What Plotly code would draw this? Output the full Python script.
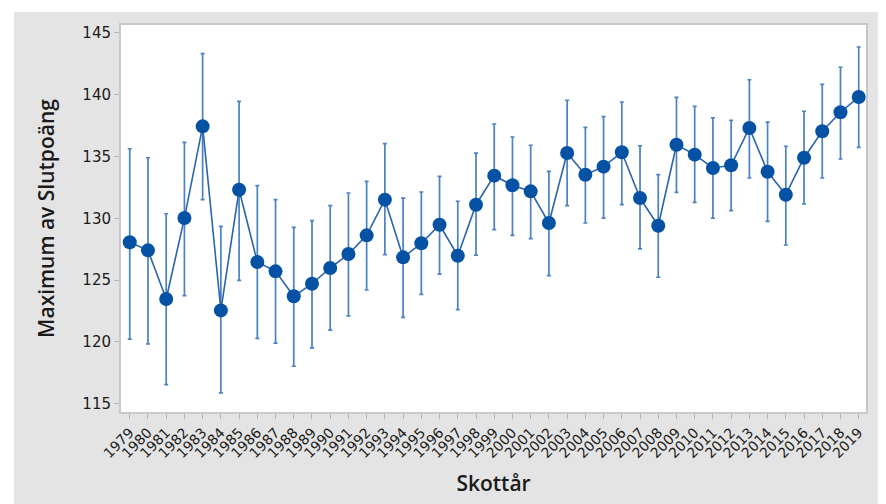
import plotly.graph_objects as go

years = list(range(1979, 2020))
year_labels = [str(y) for y in years]

max_score = [128.06, 127.41, 123.47, 130.02, 137.44, 122.55, 132.31, 126.46, 125.71, 123.69,
             124.71, 125.98, 127.11, 128.62, 131.51, 126.84, 127.98, 129.48, 126.97, 131.10,
             133.45, 132.67, 132.18, 129.62, 135.28, 133.53, 134.18, 135.34, 131.64, 129.40,
             135.95, 135.15, 134.07, 134.29, 137.31, 133.77, 131.91, 134.90, 137.04, 138.58,
             139.81]
upper = [135.63, 134.90, 130.37, 136.15, 143.32, 129.35, 139.46, 132.64, 131.51, 129.27,
         129.81, 131.02, 132.05, 132.99, 136.04, 131.64, 132.13, 133.40, 131.38, 135.28,
         137.63, 136.58, 135.91, 133.80, 139.55, 137.36, 138.22, 139.41, 135.87, 133.53,
         139.79, 139.06, 138.12, 137.93, 141.21, 137.79, 135.83, 138.66, 140.84, 142.22,
         143.86]
lower = [120.23, 119.83, 116.54, 123.74, 131.51, 115.87, 124.98, 120.29, 119.91, 118.03,
         119.51, 120.96, 122.10, 124.20, 127.06, 121.99, 123.85, 125.49, 122.61, 127.01,
         129.08, 128.62, 128.35, 125.36, 131.02, 129.62, 130.02, 131.10, 127.52, 125.23,
         132.10, 131.29, 130.02, 130.62, 133.26, 129.76, 127.84, 131.16, 133.26, 134.80,
         135.74]

y_ticks = [115, 120, 125, 130, 135, 140, 145]

err_plus = [u - m for u, m in zip(upper, max_score)]
err_minus = [m - l for m, l in zip(max_score, lower)]

fig = go.Figure()
fig.add_trace(go.Scatter(
    x=years, y=max_score, mode="markers",
    marker=dict(size=0.1, color="rgba(0,0,0,0)"),
    error_y=dict(type="data", symmetric=False, array=err_plus, arrayminus=err_minus,
                 color="#4a82c4", thickness=1.7, width=2),
    hoverinfo="skip", showlegend=False,
))
fig.add_trace(go.Scatter(
    x=years, y=max_score, mode="lines+markers",
    line=dict(color="#2b65ad", width=1.6),
    marker=dict(size=14, color="#0552a5"),
    showlegend=False,
))

W, H = 886, 504
ml, mr, mt, mb = 113, 28, 17, 100
pw, ph = W - ml - mr, H - mt - mb

fig.update_layout(
    width=W, height=H,
    margin=dict(l=ml, r=mr, t=mt, b=mb, pad=0),
    paper_bgcolor="#e4e4e4", plot_bgcolor="white",
    font=dict(family="Open Sans", color="#1a1a1a"),
    shapes=[
        dict(type="rect", xref="paper", yref="paper", layer="below",
             x0=-ml / pw, x1=-(ml - 6) / pw, y0=-mb / ph, y1=1 + mt / ph,
             fillcolor="white", line=dict(width=0)),
        dict(type="rect", xref="paper", yref="paper", layer="below",
             x0=-ml / pw, x1=1 + mr / pw, y0=1 + (mt - 4) / ph, y1=1 + mt / ph,
             fillcolor="white", line=dict(width=0)),
    ],
)
fig.update_xaxes(
    range=[1978.52, 2019.4], tickvals=years, ticktext=year_labels, tickangle=-45,
    tickfont=dict(family="DejaVu Sans", size=14, color="#1a1a1a"),
    showgrid=False, zeroline=False,
    showline=True, mirror=True, linecolor="#c8c8c8", linewidth=2,
    ticks="outside", ticklen=5, tickcolor="#b5b5b5", tickwidth=1,
    title=dict(text="Skottår", font=dict(size=21, color="#1a1a1a", weight=600), standoff=16),
)
fig.update_yaxes(
    range=[114.33, 145.64], tickvals=y_ticks,
    tickfont=dict(family="DejaVu Sans", size=15, color="#1a1a1a"),
    showgrid=False, zeroline=False,
    showline=True, mirror=True, linecolor="#c8c8c8", linewidth=2,
    ticks="outside", ticklen=5, tickcolor="#b5b5b5", tickwidth=1,
    title=dict(text="Maximum av Slutpoäng", font=dict(size=21, color="#1a1a1a", weight=600), standoff=22),
)

fig.write_html("out.html")
